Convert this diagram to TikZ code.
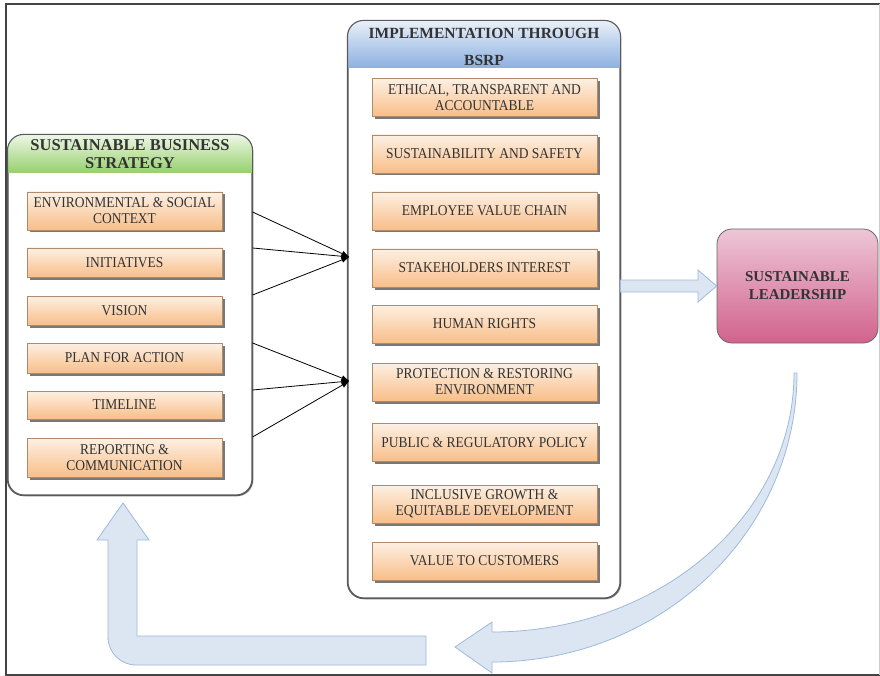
\documentclass[tikz,border=0pt]{standalone}
\usepackage{fontspec}
\setmainfont{Liberation Serif}
\newfontfamily\itemfont[FakeStretch=0.9]{Liberation Serif}
\usetikzlibrary{arrows.meta,shadows,calc}

\definecolor{txt}{HTML}{333333}
\definecolor{frameclr}{HTML}{444444}
\definecolor{panelline}{HTML}{5A5A5A}
\definecolor{greenTop}{HTML}{EEF7E6}
\definecolor{greenBot}{HTML}{96D06E}
\definecolor{blueTop}{HTML}{EAF0F9}
\definecolor{blueBot}{HTML}{8DB1E0}
\definecolor{itemTop}{HTML}{FDF0E3}
\definecolor{itemBot}{HTML}{F8BE88}
\definecolor{itemLine}{HTML}{B08A6A}
\definecolor{pinkTop}{HTML}{EDC6D6}
\definecolor{pinkBot}{HTML}{D2628C}
\definecolor{flowFill}{HTML}{DCE6F2}
\definecolor{flowLine}{HTML}{9DB9DC}

\tikzset{
  panel/.style={draw=panelline, line width=1.1pt, fill=white, rounded corners=16pt,
    inner sep=0pt, drop shadow={shadow xshift=1.5pt, shadow yshift=-1.5pt, fill=black!35, opacity=.5}},
  hdr/.style={font=\bfseries\fontsize{16}{18}\selectfont, text=txt, align=center, inner sep=0pt},
  itembox/.style={draw=itemLine, line width=.5pt, top color=itemTop, bottom color=itemBot,
    inner sep=0pt, align=center, text=txt, font=\itemfont\fontsize{15}{16}\selectfont,
    drop shadow={shadow xshift=2.5pt, shadow yshift=-2.5pt, fill=black!70, opacity=.75}},
  leftitem/.style={itembox, minimum width=195pt},
  miditem/.style={itembox, minimum width=225pt, minimum height=38pt},
  link/.style={draw=black, line width=.8pt, -{Latex[length=8pt,width=6pt]}},
  flow/.style={fill=flowFill, draw=flowLine, line width=.8pt, line join=miter},
}

\begin{document}
\begin{tikzpicture}[x=1pt,y=-1pt]
\useasboundingbox (0,0) rectangle (880,676);

% outer frame
\draw[frameclr, line width=2pt] (880,4) -- (6,4) -- (6,675) -- (880,675);
\draw[black!20, line width=.8pt] (879,4) -- (879,675);

% ---- left panel: sustainable business strategy
\node[panel, minimum width=244pt, minimum height=360pt] (sbs) at (130,315) {};
\begin{scope}
  \clip[rounded corners=16pt] (sbs.north west) rectangle (sbs.south east);
  \shade[top color=greenTop, bottom color=greenBot] (sbs.north west) rectangle ($(sbs.north east)+(0,38)$);
\end{scope}
\draw[panelline, line width=1.1pt, rounded corners=16pt] (sbs.north west) rectangle (sbs.south east);
\node[hdr, font=\bfseries\fontsize{16.5}{18}\selectfont] (sbsh) at (130,154) {SUSTAINABLE BUSINESS\\STRATEGY};

\node[leftitem, minimum height=38pt] (env)  at (124.5,211)   {ENVIRONMENTAL \& SOCIAL\\CONTEXT};
\node[leftitem, minimum height=29pt] (ini)  at (124.5,262.5) {INITIATIVES};
\node[leftitem, minimum height=29pt] (vis)  at (124.5,310.5) {VISION};
\node[leftitem, minimum height=30pt] (plan) at (124.5,358)   {PLAN FOR ACTION};
\node[leftitem, minimum height=28pt] (time) at (124.5,405)   {TIMELINE};
\node[leftitem, minimum height=39pt] (rep)  at (124.5,457.5) {REPORTING \&\\COMMUNICATION};

% ---- middle panel: implementation through BSRP
\node[panel, minimum width=272pt, minimum height=577pt] (bsrp) at (484,309.5) {};
\begin{scope}
  \clip[rounded corners=16pt] (bsrp.north west) rectangle (bsrp.south east);
  \shade[top color=blueTop, bottom color=blueBot] (bsrp.north west) rectangle ($(bsrp.north east)+(0,47)$);
\end{scope}
\draw[panelline, line width=1.1pt, rounded corners=16pt] (bsrp.north west) rectangle (bsrp.south east);
\node[hdr, font=\bfseries\fontsize{15.5}{27}\selectfont] (bsrph) at (484,46.5) {IMPLEMENTATION THROUGH\\BSRP};

\node[miditem] (eth)  at (484.5,97.5) {ETHICAL, TRANSPARENT AND\\ACCOUNTABLE};
\node[miditem] (sus)  at (484.5,154)  {SUSTAINABILITY AND SAFETY};
\node[miditem] (emp)  at (484.5,211)  {EMPLOYEE VALUE CHAIN};
\node[miditem] (stk)  at (484.5,268)  {STAKEHOLDERS INTEREST};
\node[miditem] (hr)   at (484.5,324)  {HUMAN RIGHTS};
\node[miditem] (prot) at (484.5,382)  {PROTECTION \& RESTORING\\ENVIRONMENT};
\node[miditem] (pub)  at (484.5,442.5) {PUBLIC \& REGULATORY POLICY};
\node[miditem] (inc)  at (484.5,504)  {INCLUSIVE GROWTH \&\\EQUITABLE DEVELOPMENT};
\node[miditem] (val)  at (484.5,561)  {VALUE TO CUSTOMERS};

% ---- sustainable leadership
\node[draw=black!60, line width=.8pt, rounded corners=15pt, top color=pinkTop, bottom color=pinkBot,
      minimum width=161pt, minimum height=114pt, inner sep=0pt, align=center, text=txt,
      font=\bfseries\fontsize{15}{18}\selectfont] (lead) at (797.5,286) {SUSTAINABLE\\LEADERSHIP};

% ---- connectors from the strategy panel into the BSRP panel
\coordinate (s1) at (sbs.east |- 0,212);
\coordinate (s2) at (sbs.east |- 0,248);
\coordinate (s3) at (sbs.east |- 0,295);
\coordinate (s4) at (sbs.east |- 0,343);
\coordinate (s5) at (sbs.east |- 0,390);
\coordinate (s6) at (sbs.east |- 0,437);
\coordinate (t1) at ($(bsrp.west |- 0,257)+(2,0)$);
\coordinate (t2) at ($(bsrp.west |- 0,381)+(2,0)$);
\foreach \s in {s1,s2,s3} \draw[link] (\s) -- (t1);
\foreach \s in {s4,s5,s6} \draw[link] (\s) -- (t2);

% ---- block arrow: BSRP -> leadership
\draw[flow] (bsrp.east |- 0,280) -- (698,280) -- (698,270) -- (lead.west)
            -- (698,302) -- (698,292) -- (bsrp.east |- 0,292) -- cycle;

% ---- curved arrow sweeping down from leadership
\draw[flow] (797,373) .. controls (797,533) and (660,662) .. (492,662)
            -- (492,673) -- (455,647) -- (492,622) -- (492,632)
            .. controls (659,632) and (794,516) .. (794,373) -- cycle;

% ---- L-shaped return arrow up to the strategy panel
\draw[flow] (123,503) -- (149,540) -- (137,540) -- (137,636) -- (426,636) -- (426,665)
            -- (136,665) .. controls (120.5,665) and (108,652.5) .. (108,637)
            -- (108,540) -- (97,540) -- cycle;
\end{tikzpicture}
\end{document}
